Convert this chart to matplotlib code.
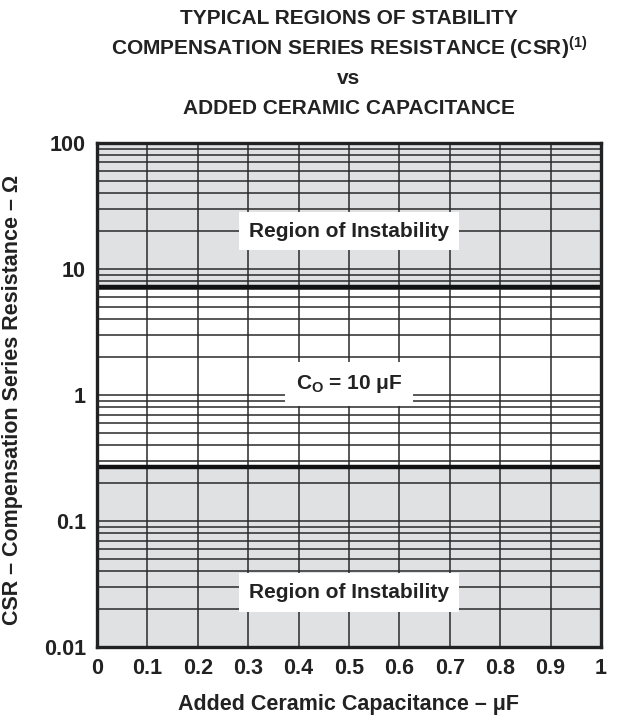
import matplotlib
matplotlib.use("Agg")
import matplotlib.pyplot as plt
from matplotlib.ticker import FixedLocator, LogLocator, NullFormatter

plt.rcParams['font.family'] = ['Liberation Sans', 'DejaVu Sans']
plt.rcParams['font.weight'] = 'bold'
plt.rcParams['mathtext.fontset'] = 'custom'
plt.rcParams['mathtext.rm'] = 'Liberation Sans:bold'
plt.rcParams['mathtext.bf'] = 'Liberation Sans:bold'
plt.rcParams['mathtext.it'] = 'Liberation Sans:bold'

# Data
cap_x = [0.0, 1.0]                       # added ceramic capacitance (uF)
csr_upper = [7.2, 7.2]                   # upper stability boundary (ohm)
csr_lower = [0.27, 0.27]                 # lower stability boundary (ohm)
x_ticks = [0, 0.1, 0.2, 0.3, 0.4, 0.5, 0.6, 0.7, 0.8, 0.9, 1.0]
x_tick_labels = ["0", "0.1", "0.2", "0.3", "0.4", "0.5", "0.6", "0.7", "0.8", "0.9", "1"]
y_ticks = [0.01, 0.1, 1, 10, 100]
y_tick_labels = ["0.01", "0.1", "1", "10", "100"]
y_min, y_max = 0.01, 100

txt = '#222222'
fig = plt.figure(figsize=(6.24, 7.17), dpi=100)
ax = fig.add_axes([0.1554, 0.0976, 0.8076, 0.703])
ax.set_yscale('log')
ax.set_xlim(0, 1)
ax.set_ylim(y_min, y_max)

gray = '#e0e1e3'
ax.fill_between(cap_x, csr_upper, [y_max, y_max], color=gray, zorder=0, linewidth=0)
ax.fill_between(cap_x, [y_min, y_min], csr_lower, color=gray, zorder=0, linewidth=0)

# grid
ax.xaxis.set_major_locator(FixedLocator(x_ticks))
ax.set_xticklabels(x_tick_labels)
ax.yaxis.set_major_locator(FixedLocator(y_ticks))
ax.set_yticklabels(y_tick_labels)
ax.yaxis.set_minor_locator(LogLocator(base=10, subs=range(2, 10)))
ax.yaxis.set_minor_formatter(NullFormatter())
ax.grid(True, which='both', axis='y', color='#2a2a2a', linewidth=1.1, zorder=1)
ax.grid(True, which='major', axis='x', color='#2a2a2a', linewidth=1.1, zorder=1)
ax.tick_params(axis='both', which='both', length=0, labelsize=15.5, labelcolor=txt)
ax.tick_params(axis='x', pad=8)
ax.tick_params(axis='y', pad=8)
ax.set_axisbelow(True)

ax.plot(cap_x, csr_upper, color='#111111', linewidth=3.2, zorder=3)
ax.plot(cap_x, csr_lower, color='#111111', linewidth=3.2, zorder=3)

for s in ax.spines.values():
    s.set_linewidth(2.4)
    s.set_color('#222222')
    s.set_zorder(4)

ax.text(0.5, 20, 'Region of Instability', ha='center', va='center', fontsize=15,
        fontweight='bold', color=txt, bbox=dict(facecolor='white', edgecolor='none', pad=7), zorder=5)
ax.text(0.5, 0.027, 'Region of Instability', ha='center', va='center', fontsize=15,
        fontweight='bold', color=txt, bbox=dict(facecolor='white', edgecolor='none', pad=7), zorder=5)
ax.text(0.5, 1.22, r'C$_{\mathbf{O}}$ = 10 μF', ha='center', va='center', fontsize=15,
        fontweight='bold', color=txt, bbox=dict(facecolor='white', edgecolor='none', pad=8), zorder=5)

ax.set_xlabel('Added Ceramic Capacitance – μF', fontsize=15.5, fontweight='bold', color=txt)
ax.xaxis.set_label_coords(0.5, -0.093)
ax.set_ylabel('CSR – Compensation Series Resistance – Ω', fontsize=15.5, fontweight='bold', color=txt)
ax.yaxis.set_label_coords(-0.147, 0.49)

title_lines = ['TYPICAL REGIONS OF STABILITY',
               r'COMPENSATION SERIES RESISTANCE (CSR)$^{\mathbf{(1)}}$',
               'vs',
               'ADDED CERAMIC CAPACITANCE']
ys = [0.974, 0.932, 0.890, 0.849]
for t, yy in zip(title_lines, ys):
    fig.text(0.559, yy, t, ha='center', va='center', fontsize=15, fontweight='bold', color=txt)

fig.savefig('out.png', dpi=100)
